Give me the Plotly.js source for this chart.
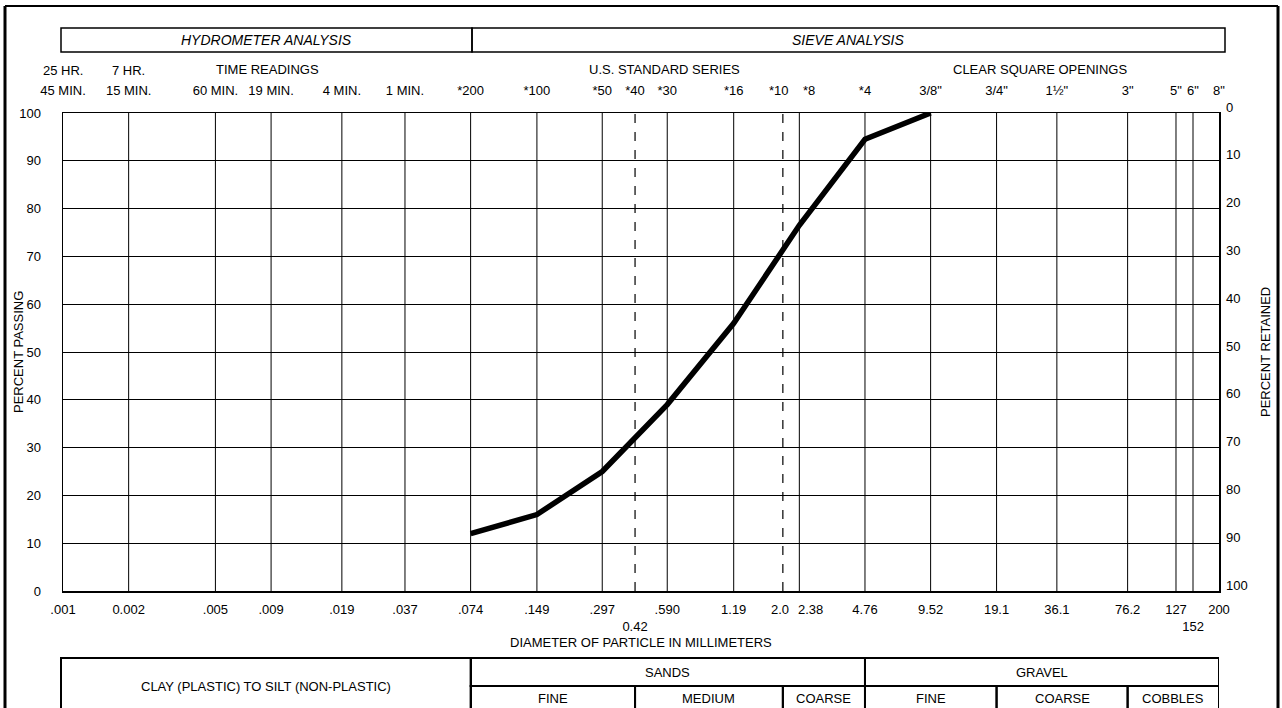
<!DOCTYPE html>
<html>
<head>
<meta charset="utf-8">
<script src="https://cdn.plot.ly/plotly-3.0.1.min.js"></script>
<style>
  html, body { margin: 0; padding: 0; background: #fff; }
  #chart { width: 1282px; height: 708px; }
</style>
</head>
<body>
<div id="chart"></div>
<script>
// ---- Data ----
const sieveSizes = [0.001, 0.002, 0.005, 0.009, 0.019, 0.037, 0.074, 0.149, 0.297, 0.42, 0.590, 1.19, 2.0, 2.38, 4.76, 9.52, 19.1, 36.1, 76.2, 127, 152, 200];
const bottomLabels = ['.001', '0.002', '.005', '.009', '.019', '.037', '.074', '.149', '.297', '<br>0.42', '.590', '1.19', '2.0', '2.38', '4.76', '9.52', '19.1', '36.1', '76.2', '127', '<br>152', '200'];
const topLabels = ['45 MIN.', '15 MIN.', '60 MIN.', '19 MIN.', '4 MIN.', '1 MIN.', '*200', '*100', '*50', '*40', '*30', '*16', '*10', '*8', '*4', '3/8"', '3/4"', '1½"', '3"', '5"', '6"', '8"'];
const hourSizes = [0.001, 0.002];
const hourLabels = ['25 HR.', '7 HR.'];
const dashedSizes = [0.42, 2.0];
const percentTicks = [0, 10, 20, 30, 40, 50, 60, 70, 80, 90, 100];

const sampleSizes = [0.074, 0.149, 0.297, 0.590, 1.19, 2.38, 4.76, 9.52];
const samplePassing = [12, 16, 25, 39, 56, 76.5, 94.5, 100];

// soil class table: [label, from, to]
const sandClasses = [['FINE', 0.074, 0.42], ['MEDIUM', 0.42, 2.0], ['COARSE', 2.0, 4.76]];
const gravelClasses = [['FINE', 4.76, 19.1], ['COARSE', 19.1, 76.2], ['COBBLES', 76.2, 200]];
const groupClasses = [['SANDS', 0.074, 4.76], ['GRAVEL', 4.76, 200]];

// crowded labels nudged sideways (size -> pixel shift)
const nudged = {2.0: -3, 2.38: 11};

// ---- Layout helpers (pixel -> paper) ----
const W = 1282, H = 708;
const L = 63, R = 1219, T = 113, B = 591;
const px = x => (x - L) / (R - L);
const py = y => (B - y) / (B - T);
const FONT = 'Liberation Sans, Arial, Helvetica, sans-serif';
const INK = '#000';
const FS = 13;

const shapes = [];
const annotations = [];
function note(xref, x, y, text, size, extra) {
  annotations.push(Object.assign({xref: xref, yref: 'paper', x: x, y: py(y), text: text,
    showarrow: false, xanchor: 'center', yanchor: 'middle',
    font: {family: FONT, size: size || FS, color: INK}}, extra || {}));
}

// tick labels: nudged ones become annotations
const bottomText = sieveSizes.map((s, i) => (s in nudged) ? '' : bottomLabels[i]);
const topText = sieveSizes.map((s, i) => (s in nudged) ? '' : topLabels[i]);
sieveSizes.forEach((s, i) => {
  if (!(s in nudged)) return;
  note('x', Math.log10(s), 609, bottomLabels[i], FS, {xshift: nudged[s]});
  note('x', Math.log10(s), 90, topLabels[i], FS, {xshift: nudged[s] - 1});
});

// vertical grid lines
sieveSizes.forEach(s => {
  if (s === sieveSizes[0] || s === sieveSizes[sieveSizes.length - 1]) return;
  const dashed = dashedSizes.includes(s);
  shapes.push({type: 'line', xref: 'x', yref: 'paper', x0: s, x1: s, y0: 0, y1: 1,
    line: {color: INK, width: dashed ? 1.2 : 1, dash: dashed ? 'dash' : 'solid'}, layer: 'below'});
});

// outer frame
shapes.push({type: 'line', xref: 'paper', yref: 'paper', x0: px(5), x1: px(5), y0: py(6), y1: py(712), line: {color: INK, width: 3}});
shapes.push({type: 'line', xref: 'paper', yref: 'paper', x0: px(5), x1: px(1278), y0: py(6), y1: py(6), line: {color: INK, width: 2}});
shapes.push({type: 'line', xref: 'paper', yref: 'paper', x0: px(1278), x1: px(1278), y0: py(6), y1: py(712), line: {color: INK, width: 3}});

// header boxes
shapes.push({type: 'rect', xref: 'paper', yref: 'paper', x0: px(61), x1: px(472), y0: py(28), y1: py(52), line: {color: INK, width: 1.5}});
shapes.push({type: 'rect', xref: 'paper', yref: 'paper', x0: px(472), x1: px(1225), y0: py(28), y1: py(52), line: {color: INK, width: 1.5}});
note('paper', px(266), 40, '<i>HYDROMETER ANALYSIS</i>', 14);
note('paper', px(848), 40, '<i>SIEVE ANALYSIS</i>', 14);

// upper header row
note('paper', px(267), 69, 'TIME READINGS');
note('paper', px(664), 69, 'U.S. STANDARD SERIES');
note('paper', px(1040), 69, 'CLEAR SQUARE OPENINGS');
hourSizes.forEach((s, i) => note('x2', Math.log10(s), 70, hourLabels[i]));

// axis titles
note('paper', px(641), 642, 'DIAMETER OF PARTICLE IN MILLIMETERS');
note('paper', px(18), 352, 'PERCENT PASSING', FS, {textangle: -90});
note('paper', px(1265), 352, 'PERCENT RETAINED', FS, {textangle: -90});

// bottom classification table
const tTop = 658, tMid = 686, tBot = 720;
shapes.push({type: 'rect', xref: 'paper', yref: 'paper', x0: px(61), x1: px(471), y0: py(tTop), y1: py(tBot), line: {color: INK, width: 2}});
note('paper', px(266), 686, 'CLAY (PLASTIC) TO SILT (NON-PLASTIC)');
groupClasses.forEach(c => {
  shapes.push({type: 'rect', xref: 'x', yref: 'paper', x0: c[1], x1: c[2], y0: py(tTop), y1: py(tMid), line: {color: INK, width: 2}});
  note('x', Math.log10(Math.sqrt(c[1] * c[2])), 672, c[0]);
});
sandClasses.concat(gravelClasses).forEach(c => {
  shapes.push({type: 'rect', xref: 'x', yref: 'paper', x0: c[1], x1: c[2], y0: py(tMid), y1: py(tBot), line: {color: INK, width: 2}});
  note('x', Math.log10(Math.sqrt(c[1] * c[2])), 698, c[0]);
});

const xRange = [Math.log10(sieveSizes[0]), Math.log10(sieveSizes[sieveSizes.length - 1])];

const traces = [{
  type: 'scatter', mode: 'lines', x: sampleSizes, y: samplePassing,
  line: {color: '#000', width: 5.5}, hoverinfo: 'x+y', showlegend: false
}, {
  type: 'scatter', mode: 'lines', x: sampleSizes, y: samplePassing.map(v => 100 - v),
  xaxis: 'x2', yaxis: 'y2', line: {width: 0}, opacity: 0, hoverinfo: 'skip', showlegend: false
}];

const tf = {family: FONT, size: FS, color: INK};
const layout = {
  width: W, height: H,
  margin: {l: L, r: W - R, t: T, b: H - B, pad: 0},
  paper_bgcolor: '#fff', plot_bgcolor: '#fff',
  showlegend: false,
  font: {family: FONT, size: FS, color: INK},
  xaxis: {
    type: 'log', range: xRange, tickvals: sieveSizes, ticktext: bottomText, tickangle: 0,
    showgrid: false, zeroline: false, ticks: '', ticklabelstandoff: 6,
    showline: true, mirror: true, linecolor: INK, linewidth: 1.5,
    tickfont: tf, automargin: false, fixedrange: true
  },
  xaxis2: {
    type: 'log', range: xRange, overlaying: 'x', side: 'top', anchor: 'y', tickangle: 0,
    tickvals: sieveSizes, ticktext: topText, showgrid: false, zeroline: false,
    ticks: '', ticklabelstandoff: 14, showline: false,
    tickfont: tf, automargin: false, fixedrange: true
  },
  yaxis: {
    range: [0, 100], tickvals: percentTicks, ticktext: percentTicks.map(String),
    showgrid: true, gridcolor: INK, gridwidth: 1, zeroline: false,
    ticks: '', ticklabelstandoff: 18, showline: true, mirror: true, linecolor: INK, linewidth: 1.5,
    tickfont: tf, automargin: false, fixedrange: true
  },
  yaxis2: {
    range: [100, 0], overlaying: 'y', side: 'right', anchor: 'x',
    tickvals: percentTicks, ticktext: percentTicks.map(String),
    showgrid: false, zeroline: false, ticks: '', ticklabelstandoff: 6, ticklabelshift: 6,
    showline: false, tickfont: tf, automargin: false, fixedrange: true
  },
  shapes: shapes,
  annotations: annotations
};

Plotly.newPlot('chart', traces, layout, {displayModeBar: false, staticPlot: true});
</script>
</body>
</html>
